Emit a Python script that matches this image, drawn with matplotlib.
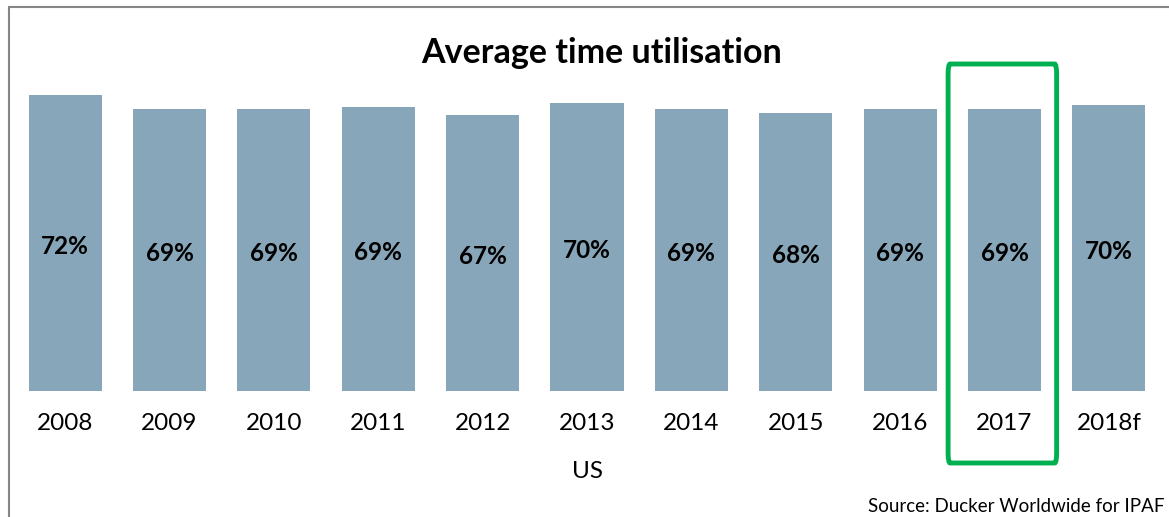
import matplotlib
matplotlib.use("Agg")
import matplotlib.pyplot as plt
from matplotlib.patches import Rectangle, FancyBboxPatch
from matplotlib.transforms import blended_transform_factory

# data
years = ["2008", "2009", "2010", "2011", "2012", "2013", "2014", "2015", "2016", "2017", "2018f"]
utilisation = [72.0, 68.6, 68.6, 69.1, 67.1, 70.1, 68.6, 67.6, 68.6, 68.6, 69.6]
labels = ["72%", "69%", "69%", "69%", "67%", "70%", "69%", "68%", "69%", "69%", "70%"]
highlight = "2017"

plt.rcParams["font.family"] = ["Lato", "DejaVu Sans"]

W, H = 1169, 517
fig = plt.figure(figsize=(W / 100, H / 100), dpi=100)
ax = fig.add_axes([13 / W, (H - 391) / H, (1161 - 13) / W, (391 - 60) / H])

x = range(len(years))
ax.bar(x, utilisation, width=0.70, color="#87a6b9")
for i, (v, lab) in enumerate(zip(utilisation, labels)):
    ax.text(i, v / 2 - 0.8, lab, ha="center", va="center", fontsize=17.5,
            fontweight="bold", color="black")

ax.set_xlim(-0.5, len(years) - 0.5)
ax.set_ylim(0, 80.5)
ax.set_xticks(list(x))
ax.set_xticklabels(years, fontsize=17.5)
ax.tick_params(axis="x", length=0, pad=16)
ax.set_yticks([])
for s in ax.spines.values():
    s.set_visible(False)

# title, axis name, source
fig.text(602 / W, 1 - 53 / H, "Average time utilisation", ha="center", va="center",
         fontsize=24.5, fontweight="bold")
fig.text(588 / W, 1 - 471 / H, "US", ha="center", va="center", fontsize=17.5)
fig.text(1164 / W, 1 - 506 / H, "Source: Ducker Worldwide for IPAF", ha="right",
         va="center", fontsize=13.5)

# outer chart frame (runs off the right and bottom edges)
fig.patches.append(Rectangle((8.5 / W, -0.1), 1.2, 1 - 6.5 / H + 0.1,
                             transform=fig.transFigure, fill=False,
                             edgecolor="#868686", linewidth=1.5))

# green highlight box around the 2017 bar
hi = years.index(highlight)
tr = blended_transform_factory(ax.transData, fig.transFigure)
box = FancyBboxPatch((hi - 0.54, 1 - 463 / H), 1.04, (463 - 64) / H,
                     boxstyle="round,pad=0,rounding_size=0.02", transform=tr,
                     fill=False, edgecolor="#00b050", linewidth=3.5, clip_on=False)
fig.patches.append(box)

fig.savefig("out.png", dpi=100)
